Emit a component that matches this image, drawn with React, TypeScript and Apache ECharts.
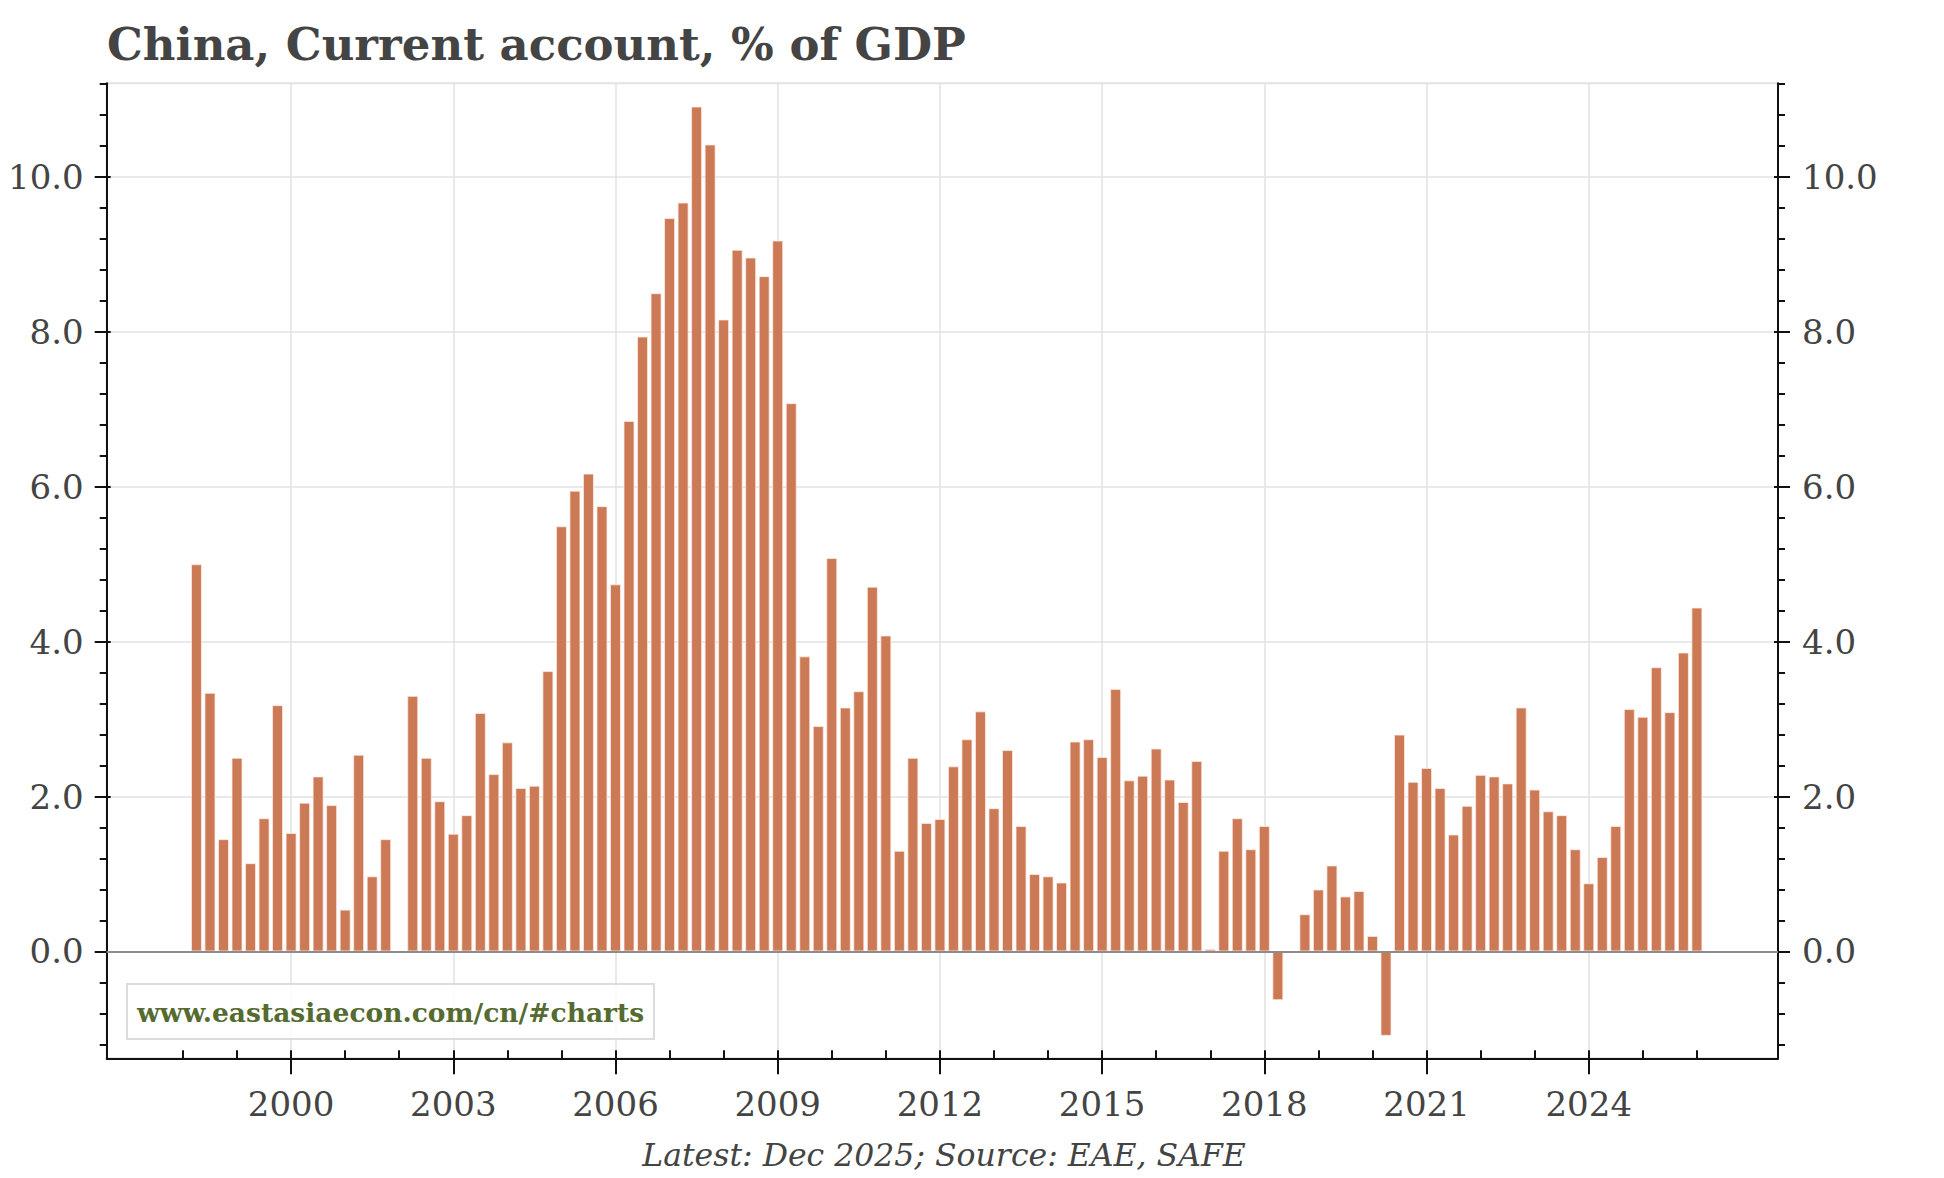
import React, { useEffect, useRef } from "react";
import * as echarts from "echarts";

// China current account, % of GDP, quarterly (1998Q1 .. 2025Q4); null = no bar shown
const CA_1998_2004 = [
  5.0, 3.34, 1.45, 2.5, 1.14, 1.72, 3.18, 1.53, 1.92, 2.26, 1.89, 0.54, 2.54, 0.97,
  1.45, null, 3.3, 2.5, 1.94, 1.52, 1.76, 3.08, 2.29, 2.7, 2.11, 2.14, 3.62, 5.49,
];
const CA_2005_2011 = [
  5.95, 6.17, 5.75, 4.74, 6.85, 7.94, 8.5, 9.47, 9.67, 10.91, 10.42, 8.16, 9.06, 8.96,
  8.72, 9.18, 7.08, 3.81, 2.91, 5.08, 3.15, 3.36, 4.71, 4.08, 1.3, 2.5, 1.66, 1.71,
];
const CA_2012_2018 = [
  2.39, 2.74, 3.1, 1.85, 2.6, 1.62, 1.0, 0.97, 0.89, 2.71, 2.74, 2.51, 3.39, 2.21,
  2.27, 2.62, 2.22, 1.93, 2.46, 0.03, 1.3, 1.72, 1.32, 1.62, -0.63, null, 0.48, 0.8,
];
const CA_2019_2025 = [
  1.11, 0.71, 0.78, 0.2, -1.09, 2.8, 2.19, 2.37, 2.11, 1.51, 1.88, 2.28, 2.26, 2.17,
  3.15, 2.09, 1.81, 1.76, 1.32, 0.88, 1.22, 1.62, 3.13, 3.03, 3.67, 3.09, 3.86, 4.44,
];
const FIRST_YEAR = 1998;

// Axis ticks and labels
const X_MAJOR = [2000, 2003, 2006, 2009, 2012, 2015, 2018, 2021, 2024];
const X_MINOR = [
  1998, 1999, 2000, 2001, 2002, 2003, 2004, 2005, 2006, 2007, 2008, 2009, 2010, 2011,
  2012, 2013, 2014, 2015, 2016, 2017, 2018, 2019, 2020, 2021, 2022, 2023, 2024, 2025, 2026,
];
const Y_MAJOR = [0, 2, 4, 6, 8, 10];
const Y_MINOR = [
  -1.2, -0.8, -0.4, 0, 0.4, 0.8, 1.2, 1.6, 2, 2.4, 2.8, 3.2, 3.6, 4, 4.4, 4.8, 5.2, 5.6,
  6, 6.4, 6.8, 7.2, 7.6, 8, 8.4, 8.8, 9.2, 9.6, 10, 10.4, 10.8, 11.2,
];
const X_MIN = 1996.59;
const X_MAX = 2027.5;
const Y_MIN = -1.38;
const Y_MAX = 11.21;

const TITLE = "China, Current account, % of GDP";
const FOOTER = "Latest: Dec 2025; Source: EAE, SAFE";
const WATERMARK = "www.eastasiaecon.com/cn/#charts";

const CA_VALUES = [...CA_1998_2004, ...CA_2005_2011, ...CA_2012_2018, ...CA_2019_2025];

export default function App() {
  const ref = useRef<HTMLDivElement>(null);

  useEffect(() => {
    if (!ref.current) return;
    const chart = echarts.init(ref.current, undefined, { renderer: "svg" });

    const barData = CA_VALUES.map((v, i) => [FIRST_YEAR + (i + 1) / 4, v === null ? "-" : v]);

    const BLACK = "#111";
    const GRID = "#e2e2e2";
    const font = { fontFamily: "DejaVu Serif", fontSize: 34, color: "#444" };
    const tickStyle = { color: BLACK, width: 2 };

    const hidden = {
      axisLine: { show: false, onZero: false },
      axisLabel: { show: false },
      splitLine: { show: false },
    };

    const option: any = {
      animation: false,
      backgroundColor: "#fff",
      title: {
        text: TITLE,
        left: 107,
        top: 22,
        padding: 0,
        textStyle: {
          fontFamily: "DejaVu Serif",
          fontWeight: "bold",
          fontSize: 45,
          color: "#444",
        },
      },
      grid: {
        left: 106.7,
        top: 83.3,
        right: 166,
        bottom: 119.7,
        containLabel: false,
        outerBoundsMode: "none",
        show: true,
        borderColor: GRID,
        borderWidth: 2,
        backgroundColor: "transparent",
      },
      xAxis: [
        {
          type: "value",
          position: "bottom",
          min: X_MIN,
          max: X_MAX,
          axisLine: { show: true, onZero: false, lineStyle: { color: BLACK, width: 2 } },
          axisTick: { show: true, customValues: X_MAJOR, inside: false, length: 16, lineStyle: tickStyle },
          axisLabel: {
            show: true,
            customValues: X_MAJOR,
            margin: 29,
            formatter: (v: number) => String(Math.round(v)),
            ...font,
          },
          splitLine: { show: true, lineStyle: { color: GRID, width: 1.5 } },
        },
        {
          type: "value",
          position: "bottom",
          min: X_MIN,
          max: X_MAX,
          ...hidden,
          axisTick: { show: true, customValues: X_MINOR, inside: true, length: 8, lineStyle: tickStyle },
        },
      ],
      yAxis: [
        {
          type: "value",
          position: "left",
          min: Y_MIN,
          max: Y_MAX,
          axisLine: { show: true, onZero: false, lineStyle: { color: BLACK, width: 2 } },
          axisTick: { show: true, customValues: Y_MAJOR, inside: false, length: 12, lineStyle: tickStyle },
          axisLabel: {
            show: true,
            customValues: Y_MAJOR,
            margin: 23,
            formatter: (v: number) => v.toFixed(1),
            ...font,
          },
          splitLine: { show: true, lineStyle: { color: GRID, width: 1.5 } },
        },
        {
          type: "value",
          position: "left",
          min: Y_MIN,
          max: Y_MAX,
          ...hidden,
          axisTick: { show: true, customValues: Y_MINOR, inside: false, length: 7, lineStyle: tickStyle },
        },
        {
          type: "value",
          position: "left",
          min: Y_MIN,
          max: Y_MAX,
          ...hidden,
          axisTick: { show: true, customValues: Y_MAJOR, inside: true, length: 4, lineStyle: tickStyle },
        },
        {
          type: "value",
          position: "right",
          min: Y_MIN,
          max: Y_MAX,
          axisLine: { show: true, onZero: false, lineStyle: { color: BLACK, width: 2 } },
          axisTick: { show: true, customValues: Y_MAJOR, inside: false, length: 12, lineStyle: tickStyle },
          axisLabel: {
            show: true,
            customValues: Y_MAJOR,
            margin: 24,
            formatter: (v: number) => v.toFixed(1),
            ...font,
          },
          splitLine: { show: false },
        },
        {
          type: "value",
          position: "right",
          min: Y_MIN,
          max: Y_MAX,
          ...hidden,
          axisTick: { show: true, customValues: Y_MINOR, inside: false, length: 7, lineStyle: tickStyle },
        },
        {
          type: "value",
          position: "right",
          min: Y_MIN,
          max: Y_MAX,
          ...hidden,
          axisTick: { show: true, customValues: Y_MAJOR, inside: true, length: 4, lineStyle: tickStyle },
        },
      ],
      series: [
        {
          type: "bar",
          xAxisIndex: 0,
          yAxisIndex: 0,
          data: barData,
          barWidth: 11,
          itemStyle: {
            color: "rgb(204,122,85)",
            borderColor: "rgba(255,235,228,0.75)",
            borderWidth: 1,
          },
          markLine: {
            silent: true,
            symbol: ["none", "none"],
            label: { show: false },
            lineStyle: { color: "#8c8c8c", width: 2, type: "solid" },
            data: [{ yAxis: 0 }],
          },
          z: 2,
        },
      ],
      graphic: [
        {
          type: "rect",
          shape: { x: 127, y: 984, width: 527, height: 55 },
          style: { fill: "rgba(255,255,255,0.8)", stroke: "#dcdcdc", lineWidth: 2 },
          z: 10,
        },
        {
          type: "text",
          x: 137,
          y: 1012,
          style: {
            text: WATERMARK,
            fill: "#556b2f",
            font: 'bold 26.5px "DejaVu Serif"',
            textAlign: "left",
            textVerticalAlign: "middle",
          },
          z: 11,
        },
        {
          type: "text",
          x: 944,
          y: 1155,
          style: {
            text: FOOTER,
            fill: "#444",
            font: 'italic 31.5px "DejaVu Serif"',
            textAlign: "center",
            textVerticalAlign: "middle",
          },
          z: 11,
        },
      ],
    };

    chart.setOption(option);
    return () => chart.dispose();
  }, []);

  return (
    <div
      ref={ref}
      style={{ position: "absolute", left: 0, top: 0, width: 1944, height: 1178 }}
    />
  );
}
